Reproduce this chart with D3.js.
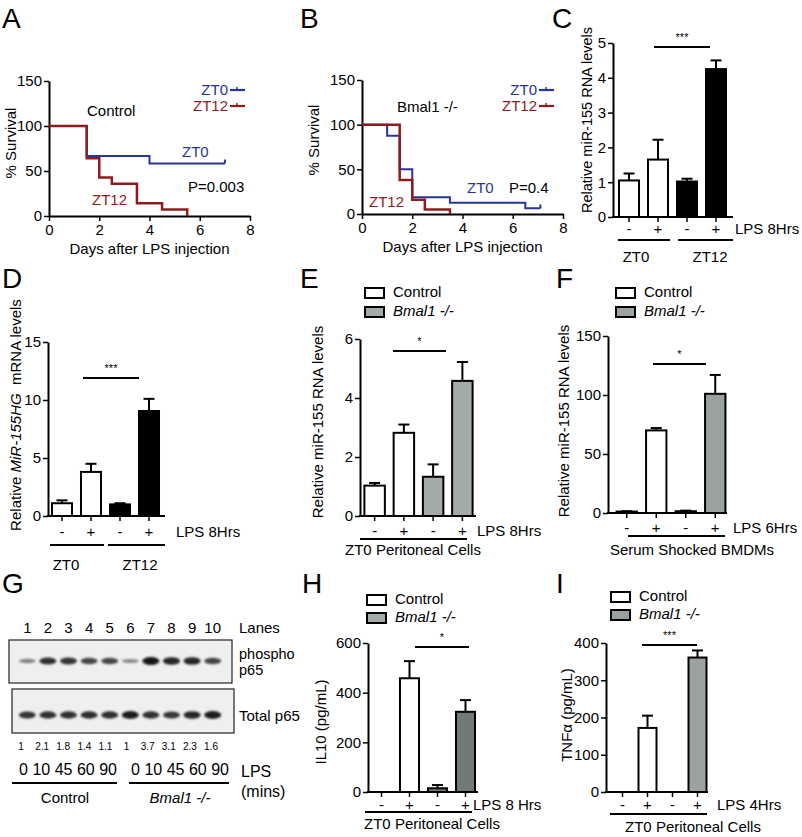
<!DOCTYPE html>
<html><head><meta charset="utf-8">
<script src="https://cdn.jsdelivr.net/npm/d3@7"></script>
<style>
body{margin:0;background:#fff}
svg{display:block;font-family:"Liberation Sans",Arial,Helvetica,sans-serif}
</style></head><body>
<svg id="fig" width="802" height="837"></svg>
<script>
// ================= DATA =================
// Panel A (Control) Kaplan-Meier survival
const aZT0Days  = [0, 1.5, 4, 7];
const aZT0Surv  = [100, 66.7, 58.3, 58.3];
const aZT12Days = [0, 1.5, 2, 2.5, 3.5, 4.5, 5.5];
const aZT12Surv = [100, 64.3, 42.9, 35.7, 14.3, 7.1, 0];
// Panel B (Bmal1 -/-) Kaplan-Meier survival
const bZT0Days  = [0, 1, 1.5, 2, 3.5, 6.5, 7.1];
const bZT0Surv  = [100, 87.5, 50, 18.8, 12.5, 6.3, 6.3];
const bZT12Days = [0, 1.5, 2, 2.5, 3.5];
const bZT12Surv = [100, 38, 16, 5, 0];
const survTicksY = [0, 50, 100, 150];
const survTicksX = [0, 2, 4, 6, 8];

const lpsSigns = ["-", "+", "-", "+"];
// Panel C: relative miR-155 RNA levels
const cValues = [1.05, 1.65, 1.02, 4.25];
const cErrTop = [1.25, 2.22, 1.1, 4.5];
const cTicks  = [0, 1, 2, 3, 4, 5];
// Panel D: MiR-155HG mRNA
const dValues = [1.1, 3.8, 1.0, 9.05];
const dErrTop = [1.35, 4.5, 1.1, 10.1];
const dTicks  = [0, 5, 10, 15];
// Panel E: miR-155, ZT0 peritoneal cells
const eValues = [1.03, 2.82, 1.33, 4.58];
const eErrTop = [1.12, 3.1, 1.75, 5.22];
const eTicks  = [0, 2, 4, 6];
// Panel F: miR-155, serum shocked BMDMs
const fValues = [1.2, 70, 1.5, 101];
const fErrTop = [1.5, 72, 2, 117];
const fTicks  = [0, 50, 100, 150];
// Panel G: western blot
const laneNumbers = [1, 2, 3, 4, 5, 6, 7, 8, 9, 10];
const phosphoIntensity = [0.35, 0.85, 0.8, 0.7, 0.7, 0.3, 1.0, 0.9, 0.9, 0.72];
const totalIntensity   = [0.8, 0.82, 0.82, 0.85, 0.85, 0.95, 0.82, 0.78, 0.9, 0.95];
const quantLabels = ["1", "2.1", "1.8", "1.4", "1.1", "1", "3.7", "3.1", "2.3", "1.6"];
const lpsMinutes = [0, 10, 45, 60, 90];
// Panel H: IL10 (pg/mL)
const hValues = [0, 458, 15, 323];
const hErrTop = [0, 527, 28, 370];
const hTicks  = [0, 200, 400, 600];
// Panel I: TNFa (pg/mL)
const iValues = [0, 172, 0, 361];
const iErrTop = [0, 205, 0, 380];
const iTicks  = [0, 100, 200, 300, 400];

// ================= STYLE =================
const FONT = '"Liberation Sans", Arial, Helvetica, sans-serif';
const BLUE = "#28349a", RED = "#8e1c1e";
const LIGHTGRAY = "#a3aba8", MIDGRAY = "#9aa2a0", DARKGRAY = "#6e7978";
const fmt = d3.format("~g");

const svg = d3.select("#fig");
svg.append("rect").attr("width", 802).attr("height", 837).attr("fill", "#fff");

function text(x, y, s, o = {}) {
  const t = svg.append("text").attr("x", x).attr("y", y).text(s)
    .attr("font-size", o.size || 15).attr("fill", o.color || "#000")
    .attr("font-family", FONT)
    .attr("text-anchor", o.anchor || "start");
  if (o.italic) t.attr("font-style", "italic");
  return t;
}
function vtext(cx, cy, parts, size) {
  const t = svg.append("text")
    .attr("transform", `translate(${cx},${cy}) rotate(-90)`)
    .attr("text-anchor", "middle").attr("dominant-baseline", "central")
    .attr("font-size", size || 15).attr("font-family", FONT);
  parts.forEach(p => {
    const ts = t.append("tspan").text(p.t);
    if (p.i) ts.attr("font-style", "italic");
  });
  return t;
}
function hline(x1, x2, y, w) {
  svg.append("line").attr("x1", x1).attr("x2", x2).attr("y1", y).attr("y2", y)
    .attr("stroke", "#000").attr("stroke-width", w || 2);
}
function styleAxis(g) {
  g.attr("font-family", FONT).attr("font-size", 15);
  g.select(".domain").attr("stroke-width", 2).attr("stroke", "#000");
  g.selectAll(".tick line").attr("stroke-width", 1.5).attr("stroke", "#000");
  g.selectAll(".tick text").attr("fill", "#000");
}

// ================= SURVIVAL PANELS =================
function survPanel(o) {
  const x = d3.scaleLinear().domain([0, 8]).range([o.x0, o.x1]);
  const y = d3.scaleLinear().domain([0, 150]).range([o.y0, o.y1]);
  styleAxis(svg.append("g").attr("transform", `translate(${o.x0},0)`)
    .call(d3.axisLeft(y).tickValues(survTicksY).tickFormat(fmt).tickSize(5).tickSizeOuter(0).tickPadding(2)));
  styleAxis(svg.append("g").attr("transform", `translate(0,${o.y0})`)
    .call(d3.axisBottom(x).tickValues(survTicksX).tickFormat(fmt).tickSize(5).tickSizeOuter(0).tickPadding(3)));
  const line = d3.line().x(d => x(d[0])).y(d => y(d[1])).curve(d3.curveStepAfter);
  o.series.forEach(s => {
    const pts = s.days.map((d, i) => [d, s.surv[i]]);
    svg.append("path").attr("d", line(pts)).attr("fill", "none")
      .attr("stroke", s.color).attr("stroke-width", s.w);
    if (s.censor) {
      const last = pts[pts.length - 1];
      svg.append("line").attr("x1", x(last[0])).attr("x2", x(last[0]))
        .attr("y1", y(last[1]) - 4).attr("y2", y(last[1]))
        .attr("stroke", s.color).attr("stroke-width", 2);
    }
  });
  // legend
  o.legend.forEach(l => {
    text(o.legX, l.y + 5, l.label, { color: l.color, anchor: "end" });
    svg.append("line").attr("x1", o.legX + 2).attr("x2", o.legX + 17).attr("y1", l.y).attr("y2", l.y)
      .attr("stroke", l.color).attr("stroke-width", 2.2);
    svg.append("line").attr("x1", o.legX + 9).attr("x2", o.legX + 9).attr("y1", l.y - 3).attr("y2", l.y)
      .attr("stroke", l.color).attr("stroke-width", 1.5);
  });
  vtext(o.ylabX, o.ylabY, [{ t: "% Survival" }], 15);
  text((o.x0 + o.x1) / 2, o.y0 + 38, "Days after LPS injection", { anchor: "middle" });
}

text(2, 28, "A", { size: 28 });
survPanel({
  x0: 49, x1: 250, y0: 216, y1: 81, legX: 228, ylabX: 10, ylabY: 143,
  series: [
    { days: aZT0Days, surv: aZT0Surv, color: BLUE, w: 2, censor: true },
    { days: aZT12Days, surv: aZT12Surv, color: RED, w: 2.5 }
  ],
  legend: [{ label: "ZT0", color: BLUE, y: 90 }, { label: "ZT12", color: RED, y: 106 }]
});
text(87, 116, "Control");
text(182, 157, "ZT0", { color: BLUE });
text(188, 192, "P=0.003");
text(92, 205, "ZT12", { color: RED });

text(300, 28, "B", { size: 28 });
survPanel({
  x0: 362, x1: 563, y0: 214, y1: 80, legX: 537, ylabX: 313, ylabY: 140,
  series: [
    { days: bZT0Days, surv: bZT0Surv, color: BLUE, w: 2, censor: true },
    { days: bZT12Days, surv: bZT12Surv, color: RED, w: 2.5 }
  ],
  legend: [{ label: "ZT0", color: BLUE, y: 90 }, { label: "ZT12", color: RED, y: 106 }]
});
text(397, 112, "Bmal1 -/-");
text(467, 193, "ZT0", { color: BLUE });
text(509, 193, "P=0.4");
text(369, 207, "ZT12", { color: RED });

// ================= BAR PANELS =================
function barPanel(o) {
  const y = d3.scaleLinear().domain([0, o.yMax]).range([o.y0, o.yTop]);
  const x = d3.scaleBand().domain(d3.range(o.values.length)).range(o.xRange)
    .paddingInner(o.pad).paddingOuter(o.pad / 2);
  const bw = x.bandwidth();
  // bars
  svg.append("g").selectAll("rect").data(o.values).join("rect")
    .attr("x", (d, i) => x(i)).attr("width", bw)
    .attr("y", d => y(d)).attr("height", d => o.y0 - y(d))
    .attr("fill", (d, i) => o.fills[i]).attr("stroke", "#000").attr("stroke-width", 2)
    .attr("display", d => d > 0 ? null : "none");
  // error bars (upper only)
  const eg = svg.append("g").attr("stroke", "#000").attr("stroke-width", 2);
  o.values.forEach((v, i) => {
    if (o.err[i] <= v) return;
    const cx = x(i) + bw / 2;
    eg.append("line").attr("x1", cx).attr("x2", cx).attr("y1", y(v)).attr("y2", y(o.err[i]));
    eg.append("line").attr("x1", cx - 5.5).attr("x2", cx + 5.5).attr("y1", y(o.err[i])).attr("y2", y(o.err[i]));
  });
  // y axis
  styleAxis(svg.append("g").attr("transform", `translate(${o.axisX},0)`)
    .call(d3.axisLeft(y).tickValues(o.ticks).tickFormat(fmt).tickSize(5).tickSizeOuter(0).tickPadding(2)));
  // x axis line + ticks
  hline(o.axisX - 1, o.xEnd, o.y0, 2);
  o.values.forEach((v, i) => {
    const cx = x(i) + bw / 2;
    svg.append("line").attr("x1", cx).attr("x2", cx).attr("y1", o.y0).attr("y2", o.y0 + 5)
      .attr("stroke", "#000").attr("stroke-width", 1.5);
    text(cx, o.y0 + o.signDy, lpsSigns[i], { anchor: "middle" });
  });
  text(o.lpsX, o.y0 + o.signDy, o.lpsLabel);
  // significance
  hline(o.sig[0], o.sig[1], o.sig[2], 2);
  text((o.sig[0] + o.sig[1]) / 2, o.sig[2] - 6, o.star, { anchor: "middle", size: 11 });
  return x;
}

// ---- C ----
text(552, 28, "C", { size: 28 });
barPanel({
  values: cValues, err: cErrTop, ticks: cTicks, yMax: 5, y0: 217, yTop: 43,
  xRange: [614.5, 730.5], pad: 0.31, axisX: 613, xEnd: 733,
  fills: ["#fff", "#fff", "#000", "#000"], signDy: 17, lpsX: 735, lpsLabel: "LPS 8Hrs",
  sig: [654, 710, 47], star: "***"
});
vtext(587, 120, [{ t: "Relative miR-155 RNA levels" }], 14.5);
hline(618, 670, 240, 2); hline(678, 733, 240, 2);
text(636, 262, "ZT0", { anchor: "middle" });
text(710, 262, "ZT12", { anchor: "middle" });

// ---- D ----
text(2, 288, "D", { size: 28 });
barPanel({
  values: dValues, err: dErrTop, ticks: dTicks, yMax: 15, y0: 516, yTop: 342,
  xRange: [47.5, 163.5], pad: 0.31, axisX: 48, xEnd: 165,
  fills: ["#fff", "#fff", "#000", "#000"], signDy: 21, lpsX: 176, lpsLabel: "LPS 8Hrs",
  sig: [83, 139, 378], star: "***"
});
vtext(15, 415, [{ t: "Relative " }, { t: "MiR-155HG", i: true }, { t: "\u00a0 mRNA levels" }], 15);
hline(50, 104, 545, 2); hline(108, 165, 545, 2);
text(66, 570, "ZT0", { anchor: "middle" });
text(140, 570, "ZT12", { anchor: "middle" });

// legend helper for E/F/H/I
function legend2(x, y1, y2, fill2) {
  svg.append("rect").attr("x", x).attr("y", y1).attr("width", 19).attr("height", 10)
    .attr("fill", "#fff").attr("stroke", "#000").attr("stroke-width", 2);
  svg.append("rect").attr("x", x).attr("y", y2).attr("width", 19).attr("height", 10)
    .attr("fill", fill2).attr("stroke", "#000").attr("stroke-width", 2);
  text(x + 28, y1 + 9, "Control");
  text(x + 28, y2 + 9, "Bmal1 -/-", { italic: true });
}

// ---- E ----
text(300, 288, "E", { size: 28 });
legend2(365, 288, 307, LIGHTGRAY);
barPanel({
  values: eValues, err: eErrTop, ticks: eTicks, yMax: 6, y0: 516, yTop: 339,
  xRange: [360, 477], pad: 0.3, axisX: 360, xEnd: 476,
  fills: ["#fff", "#fff", LIGHTGRAY, LIGHTGRAY], signDy: 20, lpsX: 477, lpsLabel: "LPS 8Hrs",
  sig: [393, 446, 351], star: "*"
});
vtext(317, 422, [{ t: "Relative miR-155 RNA levels" }], 15);
hline(360, 467, 539, 2);
text(413, 555, "ZT0 Peritoneal Cells", { anchor: "middle" });

// ---- F ----
text(556, 288, "F", { size: 28 });
legend2(616, 288, 307, MIDGRAY);
barPanel({
  values: fValues, err: fErrTop, ticks: fTicks, yMax: 150, y0: 513, yTop: 336,
  xRange: [612, 730], pad: 0.31, axisX: 608, xEnd: 727,
  fills: ["#fff", "#fff", MIDGRAY, MIDGRAY], signDy: 20, lpsX: 733, lpsLabel: "LPS 6Hrs",
  sig: [653, 706, 364], star: "*"
});
vtext(563, 421, [{ t: "Relative miR-155 RNA levels" }], 15);
hline(628, 725, 536, 2);
text(692, 555, "Serum Shocked BMDMs", { anchor: "middle" });

// ---- H ----
text(302, 593, "H", { size: 28 });
legend2(367, 595, 613, LIGHTGRAY);
barPanel({
  values: hValues, err: hErrTop, ticks: hTicks, yMax: 600, y0: 792, yTop: 643,
  xRange: [367.5, 479.5], pad: 0.32, axisX: 368, xEnd: 478,
  fills: ["#fff", "#fff", DARKGRAY, DARKGRAY], signDy: 18, lpsX: 473, lpsLabel: "LPS 8 Hrs",
  sig: [415, 469, 647], star: "*"
});
vtext(320, 722, [{ t: "IL10 (pg/mL)" }], 15);
hline(365, 472, 812, 2);
text(432, 829, "ZT0 Peritoneal Cells", { anchor: "middle" });

// ---- I ----
text(556, 593, "I", { size: 28 });
legend2(611, 592, 610, MIDGRAY);
barPanel({
  values: iValues, err: iErrTop, ticks: iTicks, yMax: 400, y0: 792, yTop: 643,
  xRange: [610, 710], pad: 0.28, axisX: 606, xEnd: 708,
  fills: ["#fff", "#fff", MIDGRAY, MIDGRAY], signDy: 18, lpsX: 717, lpsLabel: "LPS 4Hrs",
  sig: [642, 697, 645], star: "***"
});
vtext(566, 715, [{ t: "TNF\u03b1 (pg/mL)" }], 15);
hline(610, 707, 814, 2);
text(693, 832, "ZT0 Peritoneal Cells", { anchor: "middle" });

// ================= G: WESTERN BLOT =================
text(2, 593, "G", { size: 28 });
const lane = d3.scaleBand().domain(laneNumbers).range([17, 223]);
const laneC = d => lane(d) + lane.bandwidth() / 2;
const quantX = d3.scalePoint().domain(laneNumbers).range([21, 211]);
const defs = svg.append("defs");
defs.append("filter").attr("id", "blur").attr("x", "-50%").attr("y", "-100%").attr("width", "200%").attr("height", "300%")
  .append("feGaussianBlur").attr("stdDeviation", 1.3);

laneNumbers.forEach(n => text(laneC(n), 633, String(n), { anchor: "middle" }));
text(239, 633, "Lanes");

function blot(x, y, w, h, intens, bandY, minH, maxH) {
  svg.append("rect").attr("x", x).attr("y", y).attr("width", w).attr("height", h)
    .attr("fill", "#efefef").attr("stroke", "#222").attr("stroke-width", 1.2);
  const g = svg.append("g").attr("filter", "url(#blur)");
  laneNumbers.forEach((n, i) => {
    const v = intens[i];
    const bh = minH + (maxH - minH) * v;
    const c = Math.round(190 - 170 * v);
    g.append("ellipse").attr("cx", laneC(n)).attr("cy", bandY)
      .attr("rx", 8.5).attr("ry", bh / 2)
      .attr("fill", `rgb(${c},${c},${c})`);
  });
}
blot(9, 640, 223, 43, phosphoIntensity, 661, 2.5, 8);
text(239, 659, "phospho", { size: 14.5 });
text(239, 675, "p65", { size: 14.5 });
blot(12, 689, 222, 44, totalIntensity, 715, 4, 8);
text(239, 721, "Total p65");

quantLabels.forEach((q, i) => text(quantX(laneNumbers[i]), 750, q, { anchor: "middle", size: 10 }));
text(68, 775, lpsMinutes.join(" "), { anchor: "middle", size: 16 });
text(180, 775, lpsMinutes.join(" "), { anchor: "middle", size: 16 });
hline(12, 117, 783, 2);
hline(129, 229, 783, 2);
text(65, 803, "Control", { anchor: "middle" });
text(180, 803, "Bmal1 -/-", { anchor: "middle", italic: true });
text(241, 777, "LPS", { size: 16 });
text(241, 797, "(mins)", { size: 16 });
</script>
</body></html>
